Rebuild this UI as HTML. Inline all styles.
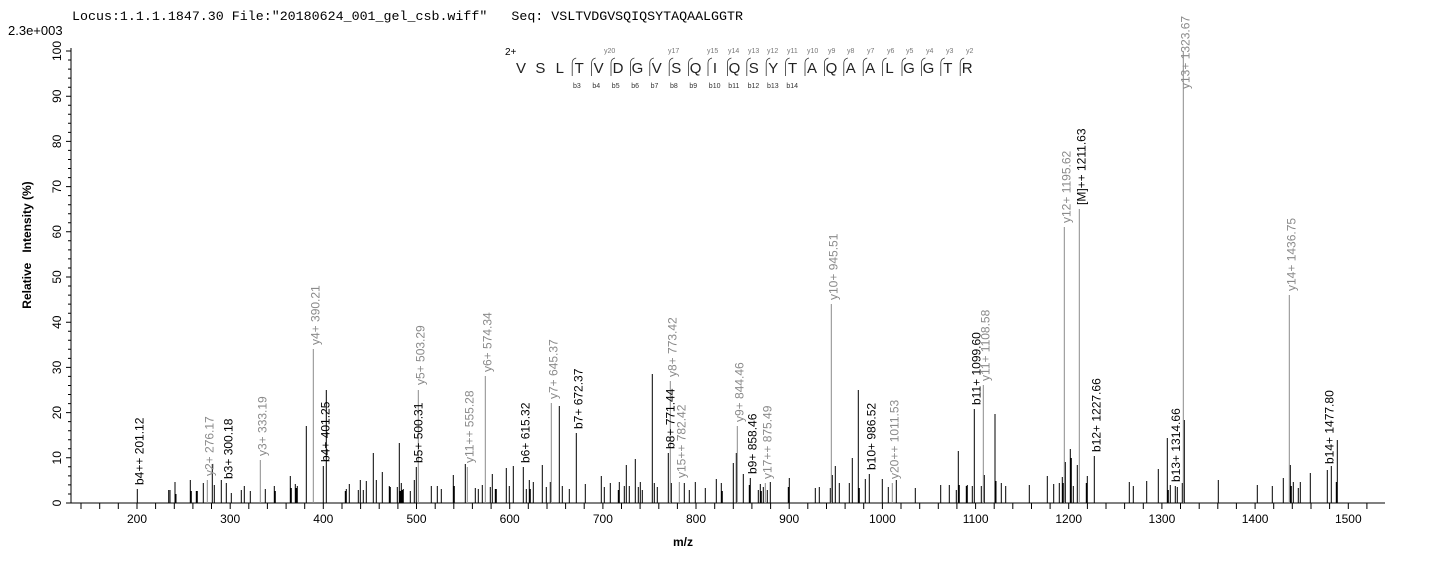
<!DOCTYPE html>
<html><head><meta charset="utf-8"><style>
html,body{margin:0;padding:0;background:#fff;}
svg{display:block;font-family:"Liberation Sans",Arial,sans-serif;}
.lb{font-size:12px;fill:#000;}
.lg{font-size:12px;fill:#8a8a8a;}
.sm{font-size:7px;fill:#777;}
.smb{font-size:7px;fill:#333;}
</style></head><body>
<svg width="1436" height="562" viewBox="0 0 1436 562" xmlns="http://www.w3.org/2000/svg">
<text x="72" y="20" font-family="'Liberation Mono','Courier New',monospace" font-size="13.3" textLength="671" lengthAdjust="spacingAndGlyphs" xml:space="preserve">Locus:1.1.1.1847.30 File:"20180624_001_gel_csb.wiff"   Seq: VSLTVDGVSQIQSYTAQAALGGTR</text>
<text x="8" y="35" font-size="13">2.3e+003</text>
<path d="M71 48V503H1385" stroke="#000" stroke-width="1" fill="none"/>
<g stroke="#000" stroke-width="1">
<path d="M81 503v6M99.7 503v6M118.3 503v6M137 503v6M155.6 503v6M174.3 503v6M192.9 503v6M211.5 503v6M230.2 503v6M248.8 503v6M267.4 503v6M286.1 503v6M304.7 503v6M323.3 503v6M342 503v6M360.6 503v6M379.2 503v6M397.9 503v6M416.5 503v6M435.2 503v6M453.8 503v6M472.4 503v6M491.1 503v6M509.7 503v6M528.3 503v6M547 503v6M565.6 503v6M584.2 503v6M602.9 503v6M621.5 503v6M640.1 503v6M658.8 503v6M677.4 503v6M696 503v6M714.7 503v6M733.3 503v6M751.9 503v6M770.6 503v6M789.2 503v6M807.8 503v6M826.5 503v6M845.1 503v6M863.7 503v6M882.4 503v6M901 503v6M919.7 503v6M938.3 503v6M956.9 503v6M975.6 503v6M994.2 503v6M1012.8 503v6M1031.5 503v6M1050.1 503v6M1068.7 503v6M1087.4 503v6M1106 503v6M1124.6 503v6M1143.3 503v6M1161.9 503v6M1180.5 503v6M1199.2 503v6M1217.8 503v6M1236.4 503v6M1255.1 503v6M1273.7 503v6M1292.3 503v6M1311 503v6M1329.6 503v6M1348.3 503v6M1366.9 503v6"/>
</g>
<g font-size="12" text-anchor="middle">
<text x="137" y="523">200</text><text x="230.2" y="523">300</text><text x="323.3" y="523">400</text><text x="416.5" y="523">500</text><text x="509.7" y="523">600</text><text x="602.9" y="523">700</text><text x="696" y="523">800</text><text x="789.2" y="523">900</text><text x="882.4" y="523">1000</text><text x="975.6" y="523">1100</text><text x="1068.7" y="523">1200</text><text x="1161.9" y="523">1300</text><text x="1255.1" y="523">1400</text><text x="1348.3" y="523">1500</text>
</g>
<g stroke="#000" stroke-width="1">
<path d="M66 503h5M66 457.8h5M66 412.6h5M66 367.4h5M66 322.2h5M66 277h5M66 231.8h5M66 186.6h5M66 141.4h5M66 96.2h5M66 51h5"/>
<path d="M68 493.96h3M68 484.9h3M68 475.9h3M68 466.8h3M68 448.8h3M68 439.7h3M68 430.7h3M68 421.6h3M68 403.6h3M68 394.5h3M68 385.5h3M68 376.4h3M68 358.4h3M68 349.3h3M68 340.3h3M68 331.2h3M68 313.2h3M68 304.1h3M68 295.1h3M68 286h3M68 268h3M68 258.9h3M68 249.9h3M68 240.8h3M68 222.8h3M68 213.7h3M68 204.7h3M68 195.6h3M68 177.6h3M68 168.5h3M68 159.5h3M68 150.4h3M68 132.4h3M68 123.3h3M68 114.3h3M68 105.2h3M68 87.2h3M68 78.1h3M68 69.1h3M68 60h3"/>
</g>
<g font-size="12" text-anchor="middle">
<text transform="translate(61,503) rotate(-90)">0</text>
<text transform="translate(61,457.8) rotate(-90)">10</text>
<text transform="translate(61,412.6) rotate(-90)">20</text>
<text transform="translate(61,367.4) rotate(-90)">30</text>
<text transform="translate(61,322.2) rotate(-90)">40</text>
<text transform="translate(61,277) rotate(-90)">50</text>
<text transform="translate(61,231.8) rotate(-90)">60</text>
<text transform="translate(61,186.6) rotate(-90)">70</text>
<text transform="translate(61,141.4) rotate(-90)">80</text>
<text transform="translate(61,96.2) rotate(-90)">90</text>
<text transform="translate(61,51) rotate(-90)">100</text>
</g>
<text transform="translate(31,245) rotate(-90)" font-size="12" font-weight="bold" text-anchor="middle" xml:space="preserve">Relative   Intensity (%)</text>
<text x="683" y="546" font-size="12" font-weight="bold" text-anchor="middle">m/z</text>

<path stroke="#000" stroke-width="1" fill="none" d="
M137.3 503v-14M168.7 503v-13M170 503v-13M175 503v-21M176 503v-9M190.3 503v-23M191.3 503v-12M196.3 503v-12M197.3 503v-12M203.3 503v-20M212.3 503v-39M214.3 503v-18M221.3 503v-23M226.3 503v-20M231.3 503v-10M241.3 503v-13M244.3 503v-17M250.3 503v-12M265.3 503v-14M274.3 503v-17M275.3 503v-12M290.3 503v-27M291.3 503v-15M295.3 503v-19M296.3 503v-15M297.3 503v-17M306.3 503v-77M323.3 503v-37M326.3 503v-113M345.3 503v-12M346.3 503v-14M349.3 503v-19M358.3 503v-13M360.3 503v-23M363.3 503v-13M366.3 503v-22M373.3 503v-50M376.3 503v-23M382.3 503v-31M389.3 503v-17M390.3 503v-16M397.3 503v-16M399.3 503v-60M400.3 503v-12M401.3 503v-20M402.3 503v-13M403.3 503v-14M410.3 503v-12M414.3 503v-23M416.3 503v-36M431.3 503v-17M437.3 503v-17M441.3 503v-14M453.3 503v-28M454.3 503v-17M465.3 503v-39M475.3 503v-15M478.3 503v-14M482.3 503v-18
M490.3 503v-16M492.3 503v-29M495.3 503v-14M496.3 503v-14M506.3 503v-35M509.3 503v-17M513.3 503v-37M523.3 503v-36M526.3 503v-14M529.3 503v-23M530.3 503v-14M533.3 503v-21M542.3 503v-38M546.3 503v-16M550.3 503v-21M559.3 503v-97M562.3 503v-17M569.3 503v-14M576.3 503v-70M585.3 503v-19M601.3 503v-27M604.3 503v-16M610.3 503v-20M618.3 503v-13M619.3 503v-21M624.3 503v-17M626.3 503v-38M629.3 503v-17M635.3 503v-44M638.3 503v-16M640.3 503v-21M642.3 503v-13M652.3 503v-129M654.3 503v-20M657.3 503v-16M668.3 503v-50M671.3 503v-20M684.3 503v-20M689.3 503v-13M695.3 503v-21M705.3 503v-15M716.3 503v-24M721.3 503v-20M722.3 503v-12M733.3 503v-40M736.3 503v-50M743.3 503v-29M749.3 503v-18M750.3 503v-25M758.3 503v-13M760.3 503v-19M761.3 503v-12M763.3 503v-16M767.3 503v-13M770.3 503v-21M788.3 503v-16M789.3 503v-25M815.3 503v-15M819.3 503v-16M830.3 503v-15M832.3 503v-28M835.3 503v-37M839.3 503v-20M849.3 503v-20M852.3 503v-45M858.3 503v-113M859.3 503v-15M865.3 503v-24M869.3 503v-29M882.3 503v-24M888.3 503v-16M896.3 503v-23M915.3 503v-15
M940.7 503v-18M949.3 503v-18M956.3 503v-13M958.3 503v-52M959.3 503v-18M966.3 503v-17M967.3 503v-18M972.3 503v-17M974.3 503v-94M981.3 503v-17M984.3 503v-28M995 503v-89M996 503v-22M1001.3 503v-20M1005.7 503v-17M1029.3 503v-18M1047.3 503v-27M1053.7 503v-19M1059.3 503v-20M1062.3 503v-26M1063.3 503v-20M1065.3 503v-41M1070.3 503v-54M1071.3 503v-45M1073.3 503v-17M1077.3 503v-38M1086.3 503v-20M1087.3 503v-27M1094.3 503v-47M1129.3 503v-21M1133.3 503v-17M1146.7 503v-22M1158.3 503v-34M1167.3 503v-65M1168.3 503v-13M1170.3 503v-18M1175.3 503v-17M1177.3 503v-16M1182.3 503v-20M1184.3 503v-83M1218.3 503v-23M1257.3 503v-18M1272.3 503v-17M1283.3 503v-25M1290.3 503v-38M1291.3 503v-17M1293.3 503v-21M1298.3 503v-15M1300.3 503v-21M1310.3 503v-30M1327.3 503v-33M1331.3 503v-37M1336.3 503v-21M1337.3 503v-63"/>
<path stroke="#8a8a8a" stroke-width="1" fill="none" d="M207.3 503v-23M260.3 503v-43M313.3 503v-154M418.3 503v-113M467.3 503v-36M485.3 503v-127M551.3 503v-100M670.3 503v-122M679.3 503v-21M737.3 503v-77M765.3 503v-20M831.3 503v-199M892.3 503v-20M983.3 503v-118M1064.3 503v-276M1079.3 503v-294M1183.3 503v-452M1289.3 503v-208"/>

<g>
<text class="lb" transform="translate(143.3,485) rotate(-90)">b4++ 201.12</text>
<text class="lg" transform="translate(213.3,476) rotate(-90)">y2+ 276.17</text>
<text class="lb" transform="translate(232.3,479) rotate(-90)">b3+ 300.18</text>
<text class="lg" transform="translate(266.3,456) rotate(-90)">y3+ 333.19</text>
<text class="lg" transform="translate(319.3,345) rotate(-90)">y4+ 390.21</text>
<text class="lb" transform="translate(329.3,462) rotate(-90)">b4+ 401.25</text>
<text class="lb" transform="translate(422.3,463) rotate(-90)">b5+ 500.31</text>
<text class="lg" transform="translate(424.3,385) rotate(-90)">y5+ 503.29</text>
<text class="lg" transform="translate(473.3,463) rotate(-90)">y11++ 555.28</text>
<text class="lg" transform="translate(491.3,372) rotate(-90)">y6+ 574.34</text>
<text class="lb" transform="translate(529.3,463) rotate(-90)">b6+ 615.32</text>
<text class="lg" transform="translate(557.3,399) rotate(-90)">y7+ 645.37</text>
<text class="lb" transform="translate(582.3,429) rotate(-90)">b7+ 672.37</text>
<text class="lb" transform="translate(674.3,449) rotate(-90)">b8+ 771.44</text>
<text class="lg" transform="translate(676.3,377) rotate(-90)">y8+ 773.42</text>
<text class="lg" transform="translate(685.3,478) rotate(-90)">y15++ 782.42</text>
<text class="lg" transform="translate(743.3,422) rotate(-90)">y9+ 844.46</text>
<text class="lb" transform="translate(756.3,474) rotate(-90)">b9+ 858.46</text>
<text class="lg" transform="translate(771.3,479) rotate(-90)">y17++ 875.49</text>
<text class="lg" transform="translate(837.3,300) rotate(-90)">y10+ 945.51</text>
<text class="lb" transform="translate(875.3,470) rotate(-90)">b10+ 986.52</text>
<text class="lg" transform="translate(898.3,479) rotate(-90)">y20++ 1011.53</text>
<text class="lb" transform="translate(980.3,405) rotate(-90)">b11+ 1099.60</text>
<text class="lg" transform="translate(989.3,381) rotate(-90)">y11+ 1108.58</text>
<text class="lg" transform="translate(1070.3,223) rotate(-90)">y12+ 1195.62</text>
<text class="lb" transform="translate(1085.3,205) rotate(-90)">[M]++ 1211.63</text>
<text class="lb" transform="translate(1100.3,452) rotate(-90)">b12+ 1227.66</text>
<text class="lb" transform="translate(1180,482) rotate(-90)">b13+ 1314.66</text>
<text class="lg" transform="translate(1189.3,89) rotate(-90)">y13+ 1323.67</text>
<text class="lg" transform="translate(1295.3,291) rotate(-90)">y14+ 1436.75</text>
<text class="lb" transform="translate(1333.5,464) rotate(-90)">b14+ 1477.80</text>
</g>

<text x="505" y="55" font-size="10">2+</text>
<g font-size="15" text-anchor="middle" fill="#222">
<text x="521" y="73">V</text><text x="540.4" y="73">S</text><text x="559.8" y="73">L</text><text x="579.2" y="73">T</text><text x="598.6" y="73">V</text><text x="618" y="73">D</text><text x="637.4" y="73">G</text><text x="656.8" y="73">V</text><text x="676.2" y="73">S</text><text x="695.6" y="73">Q</text><text x="715" y="73">I</text><text x="734.4" y="73">Q</text><text x="753.8" y="73">S</text><text x="773.2" y="73">Y</text><text x="792.6" y="73">T</text><text x="812" y="73">A</text><text x="831.4" y="73">Q</text><text x="850.8" y="73">A</text><text x="870.2" y="73">A</text><text x="889.6" y="73">L</text><text x="909" y="73">G</text><text x="928.4" y="73">G</text><text x="947.8" y="73">T</text><text x="967.2" y="73">R</text>
</g>
<path stroke="#333" stroke-width="0.8" fill="none" d="M572.2 76V63q0-4 4-5M591.6 76V63q0-4 4-5M611 76V63q0-4 4-5M630.4 76V63q0-4 4-5M649.8 76V63q0-4 4-5M669.2 76V63q0-4 4-5M688.6 76V63q0-4 4-5M708 76V63q0-4 4-5M727.4 76V63q0-4 4-5M746.8 76V63q0-4 4-5M766.2 76V63q0-4 4-5M785.6 76V63q0-4 4-5M805 76V63q0-4 4-5M824.4 76V63q0-4 4-5M843.8 76V63q0-4 4-5M863.2 76V63q0-4 4-5M882.6 76V63q0-4 4-5M902 76V63q0-4 4-5M921.4 76V63q0-4 4-5M940.8 76V63q0-4 4-5M960.2 76V63q0-4 4-5"/>
<g>
<text x="573" y="88" class="smb">b3</text><text x="592.4" y="88" class="smb">b4</text><text x="611.8" y="88" class="smb">b5</text><text x="631.2" y="88" class="smb">b6</text><text x="650.6" y="88" class="smb">b7</text><text x="670" y="88" class="smb">b8</text><text x="689.4" y="88" class="smb">b9</text><text x="708.8" y="88" class="smb">b10</text><text x="728.2" y="88" class="smb">b11</text><text x="747.6" y="88" class="smb">b12</text><text x="767" y="88" class="smb">b13</text><text x="786.4" y="88" class="smb">b14</text>
</g>
<g>
<text x="604" y="53" class="sm">y20</text><text x="668" y="53" class="sm">y17</text><text x="707" y="53" class="sm">y15</text><text x="728" y="53" class="sm">y14</text><text x="748" y="53" class="sm">y13</text><text x="767" y="53" class="sm">y12</text><text x="787" y="53" class="sm">y11</text><text x="807" y="53" class="sm">y10</text><text x="828" y="53" class="sm">y9</text><text x="847" y="53" class="sm">y8</text><text x="867" y="53" class="sm">y7</text><text x="887" y="53" class="sm">y6</text><text x="906" y="53" class="sm">y5</text><text x="926" y="53" class="sm">y4</text><text x="946" y="53" class="sm">y3</text><text x="966" y="53" class="sm">y2</text>
</g>
</svg>
</body></html>
